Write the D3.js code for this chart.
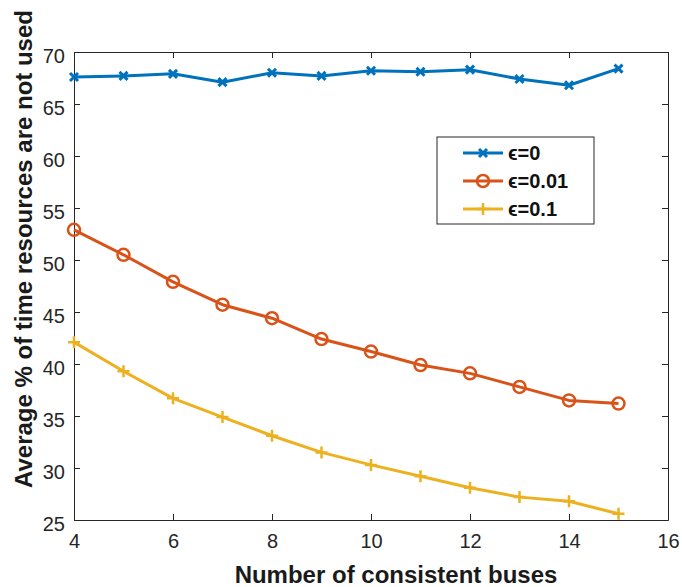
<!DOCTYPE html>
<html>
<head>
<meta charset="utf-8">
<script src="https://cdn.jsdelivr.net/npm/d3@7"></script>
<style>
  body { margin: 0; background: #fff; }
  text { font-family: "Liberation Sans", Arial, sans-serif; }
</style>
</head>
<body>
<div id="chart"></div>
<script>
var buses = [4, 5, 6, 7, 8, 9, 10, 11, 12, 13, 14, 15];
var eps0 = [67.6, 67.7, 67.9, 67.1, 68.0, 67.7, 68.2, 68.1, 68.3, 67.4, 66.8, 68.4];
var eps001 = [52.9, 50.5, 47.9, 45.7, 44.4, 42.4, 41.2, 39.9, 39.1, 37.8, 36.5, 36.2];
var eps01 = [42.1, 39.3, 36.7, 34.9, 33.1, 31.5, 30.3, 29.2, 28.1, 27.2, 26.8, 25.6];
var seriesNames = ["\u03F5=0", "\u03F5=0.01", "\u03F5=0.1"];
var xTicks = [4, 6, 8, 10, 12, 14, 16];
var yTicks = [25, 30, 35, 40, 45, 50, 55, 60, 65, 70];

var W = 682, H = 587;
var m = {left: 74, right: 14, top: 52, bottom: 67};
var colors = ["#0072BD", "#D95319", "#EDB120"];
var markers = ["x", "o", "+"];

var svg = d3.select("#chart").append("svg")
  .attr("width", W).attr("height", H);

var x = d3.scaleLinear().domain([4, 16]).range([m.left, W - m.right]);
var y = d3.scaleLinear().domain([25, 70]).range([H - m.bottom, m.top]);

var axisColor = "#262626";

// axes, box style with inward ticks on all four sides
var gx = svg.append("g").attr("transform", "translate(0," + (H - m.bottom) + ")")
  .call(d3.axisBottom(x).tickValues(xTicks).tickSizeInner(-6).tickSizeOuter(0).tickPadding(14));
var gxt = svg.append("g").attr("transform", "translate(0," + m.top + ")")
  .call(d3.axisTop(x).tickValues(xTicks).tickSizeInner(-6).tickSizeOuter(0).tickFormat(""));
var gy = svg.append("g").attr("transform", "translate(" + m.left + ",0)")
  .call(d3.axisLeft(y).tickValues(yTicks).tickSizeInner(-6).tickSizeOuter(0).tickPadding(9));
var gyr = svg.append("g").attr("transform", "translate(" + (W - m.right) + ",0)")
  .call(d3.axisRight(y).tickValues(yTicks).tickSizeInner(-6).tickSizeOuter(0).tickFormat(""));

[gx, gxt, gy, gyr].forEach(function (g) {
  g.selectAll("path, line").attr("stroke", axisColor).attr("stroke-width", 1);
  g.selectAll("text").attr("fill", axisColor).style("font-size", "20px");
});
gy.selectAll("text").attr("dy", "0.5em");

// axis titles
svg.append("text")
  .attr("x", 396).attr("y", 583)
  .attr("text-anchor", "middle")
  .style("font-size", "24px").style("font-weight", "bold")
  .attr("fill", "#1a1a1a")
  .text("Number of consistent buses");

svg.append("text")
  .attr("transform", "translate(32,249) rotate(-90)")
  .attr("text-anchor", "middle")
  .style("font-size", "24px").style("font-weight", "bold")
  .attr("fill", "#1a1a1a")
  .text("Average % of time resources are not used");

function drawMarker(g, type, color) {
  if (type === "o") {
    g.append("circle").attr("r", 6).attr("fill", "none")
      .attr("stroke", color).attr("stroke-width", 2.5);
  } else if (type === "x") {
    g.append("path").attr("d", "M-4,-4L4,4M-4,4L4,-4")
      .attr("stroke", color).attr("stroke-width", 3);
  } else {
    g.append("path").attr("d", "M-6,0L6,0M0,-6L0,6")
      .attr("stroke", color).attr("stroke-width", 2.5);
  }
}

var line = d3.line()
  .x(function (d) { return x(d[0]); })
  .y(function (d) { return y(d[1]); });

[eps0, eps001, eps01].forEach(function (vals, i) {
  var pts = buses.map(function (b, j) { return [b, vals[j]]; });
  svg.append("path").datum(pts)
    .attr("d", line)
    .attr("fill", "none")
    .attr("stroke", colors[i])
    .attr("stroke-width", 3)
    .attr("stroke-linejoin", "round");
  pts.forEach(function (p) {
    var g = svg.append("g").attr("transform", "translate(" + x(p[0]) + "," + y(p[1]) + ")");
    drawMarker(g, markers[i], colors[i]);
  });
});

// legend
var lg = svg.append("g").attr("transform", "translate(437,137)");
lg.append("rect").attr("width", 157).attr("height", 87)
  .attr("fill", "#fff").attr("stroke", axisColor).attr("stroke-width", 1);
seriesNames.forEach(function (name, i) {
  var ry = 16 + i * 28;
  lg.append("line").attr("x1", 26).attr("x2", 66).attr("y1", ry).attr("y2", ry)
    .attr("stroke", colors[i]).attr("stroke-width", 3);
  var mg = lg.append("g").attr("transform", "translate(46," + ry + ")");
  drawMarker(mg, markers[i], colors[i]);
  lg.append("text").attr("x", 71).attr("y", ry + 7)
    .style("font-size", "20px").style("font-weight", "bold")
    .attr("fill", "#111")
    .text(name);
});
</script>
</body>
</html>
